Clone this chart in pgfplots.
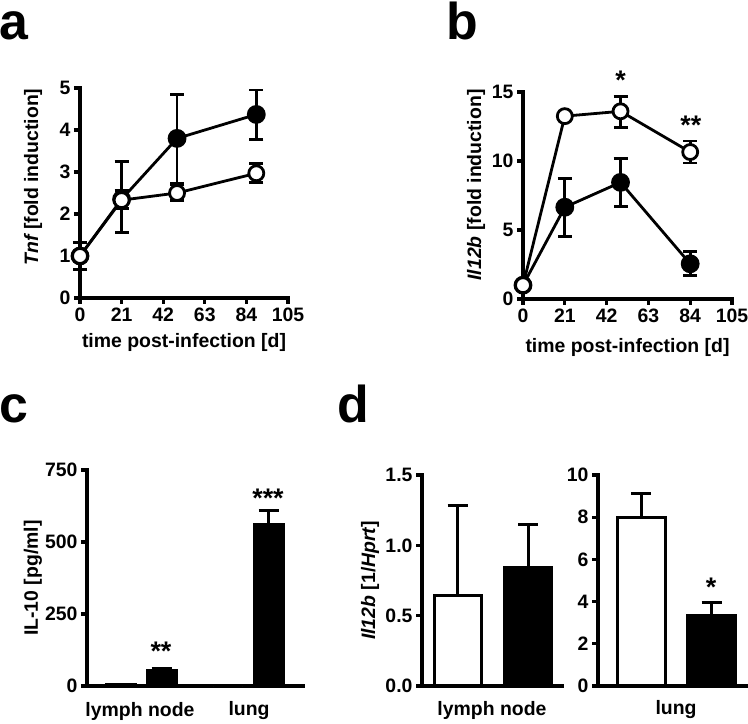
\documentclass[border=0pt]{standalone}
\usepackage{pgfplots}
\usepackage{pgfplotstable}
\pgfplotsset{compat=1.18}
\usepackage{fontspec}
\setmainfont{Liberation Sans}
\newcommand{\labfont}{\bfseries\fontsize{19.5}{23}\selectfont}
\newcommand{\panelfont}{\bfseries\fontsize{52}{52}\selectfont}
\newcommand{\starfont}{\bfseries\fontsize{27}{27}\selectfont}

\pgfplotstableread{
x y ep em
0 1 0.32 0.32
21 2.35 0.9 0.8
49 3.8 1.05 1.1
89 4.37 0.58 0.59
}\aFilled
\pgfplotstableread{
x y ep em
0 1 0.05 0.05
21 2.33 0.22 0.2
49 2.5 0.22 0.18
89 2.97 0.23 0.22
}\aOpen
\pgfplotstableread{
x y ep em
0 1 0.3 0.3
21 6.65 2.1 2.1
49 8.45 1.75 1.75
84 2.55 0.9 0.85
}\bFilled
\pgfplotstableread{
x y ep em
0 1 0.2 0.2
21 13.25 0.1 0.1
49 13.6 1.1 1.15
84 10.65 0.8 0.8
}\bOpen

\pgfplotsset{
  gp/.style={
    scale only axis,
    axis lines=left,
    axis line style={line width=3.2bp, -, line cap=rect},
    tick align=outside,
    major tick length=6bp,
    tick style={line width=3.2bp, black},
    tick label style={font=\labfont},
    label style={font=\labfont},
    /pgf/number format/assume math mode=true,
    clip=false,
  },
  opn/.style={black, line width=2.8bp, mark=*, mark options={fill=white, draw=black, line width=2.8bp, mark size=7.5bp},
    error bars/y dir=both, error bars/y explicit,
    error bars/error bar style={line width=2.8bp, black},
    error bars/error mark options={rotate=90, mark size=7bp, line width=2.8bp, black}},
  fld/.style={black, line width=2.8bp, mark=*, mark options={fill=black, draw=black, mark size=8bp},
    error bars/y dir=both, error bars/y explicit,
    error bars/error bar style={line width=2.8bp, black},
    error bars/error mark options={rotate=90, mark size=7bp, line width=2.8bp, black}},
  gbar/.style={ybar, bar shift=0pt, draw=black, line width=3bp,
    error bars/y dir=plus, error bars/y explicit,
    error bars/error bar style={line width=3bp, black},
    error bars/error mark options={rotate=90, mark size=10bp, line width=3bp, black}},
}

\begin{document}
\begin{tikzpicture}
\path[use as bounding box] (0,0) rectangle (748bp,724bp);

% panel letters
\node[anchor=base west, font=\panelfont, inner sep=0] at (-1bp,684bp) {a};
\node[anchor=base west, font=\panelfont, inner sep=0] at (446bp,684bp) {b};
\node[anchor=base west, font=\panelfont, inner sep=0] at (-1bp,301bp) {c};
\node[anchor=base west, font=\panelfont, inner sep=0] at (337bp,301bp) {d};

% panel a
\begin{axis}[gp, at={(80bp,426bp)}, anchor=south west, width=208bp, height=210bp,
  xmin=0, xmax=105, ymin=0, ymax=5,
  xtick={0,21,42,63,84,105}, ytick={0,1,2,3,4,5},
  xlabel={time post-infection [d]},
  ylabel={{\itshape Tnf} [fold induction]},
  xlabel style={at={(axis description cs:0.5,-0.214)}, anchor=center},
  ylabel style={at={(axis description cs:-0.226,0.576)}, anchor=center}]
\addplot[fld] table[x=x, y=y, y error plus=ep, y error minus=em] {\aFilled};
\addplot[opn] table[x=x, y=y, y error plus=ep, y error minus=em] {\aOpen};
\end{axis}

% panel b
\begin{axis}[gp, at={(523bp,425bp)}, anchor=south west, width=209bp, height=207bp,
  xmin=0, xmax=105, ymin=0, ymax=15,
  xtick={0,21,42,63,84,105}, ytick={0,5,10,15},
  xlabel={time post-infection [d]},
  ylabel={{\itshape Il12b} [fold induction]},
  xlabel style={at={(axis description cs:0.5,-0.232)}, anchor=center},
  ylabel style={at={(axis description cs:-0.225,0.551)}, anchor=center}]
\addplot[fld] table[x=x, y=y, y error plus=ep, y error minus=em] {\bFilled};
\addplot[opn] table[x=x, y=y, y error plus=ep, y error minus=em] {\bOpen};
\node[font=\starfont, anchor=base, inner sep=0] at (axis cs:49,15.2) {*};
\node[font=\starfont, anchor=base, inner sep=0] at (axis cs:84.3,11.9) {**};
\end{axis}

% panel c
\begin{axis}[gp, at={(87bp,38bp)}, anchor=south west, width=216bp, height=216bp,
  xmin=0, xmax=216, ymin=0, ymax=750,
  xtick=\empty, ytick={0,250,500,750},
  ylabel={IL-10 [pg/ml]},
  ylabel style={at={(axis description cs:-0.25,0.5)}, anchor=center}]
\addplot[gbar, bar width=29, fill=white] coordinates {(34,5) +- (0,1) (141,0) +- (0,0)};
\addplot[gbar, bar width=29, fill=black] coordinates {(74.5,55) +- (0,5) (181.5,560) +- (0,48)};
\node[font=\starfont, anchor=base, inner sep=0] at (axis cs:74,87) {**};
\node[font=\starfont, anchor=base, inner sep=0] at (axis cs:181,620) {***};
\node[font=\labfont] at (axis cs:53,0) [yshift=-25bp] {lymph node};
\node[font=\labfont] at (axis cs:162,0) [yshift=-25bp] {lung};
\end{axis}

% panel d left
\begin{axis}[gp, at={(422bp,38bp)}, anchor=south west, width=140bp, height=211bp,
  xmin=0, xmax=140, ymin=0, ymax=1.5,
  xtick=\empty, ytick={0,0.5,1.0,1.5},
  yticklabel style={/pgf/number format/.cd, fixed, fixed zerofill, precision=1},
  ylabel={{\itshape Il12b} [1/{\itshape Hprt}]},
  ylabel style={at={(axis description cs:-0.371,0.5)}, anchor=center}]
\addplot[gbar, bar width=47, fill=white] coordinates {(35.5,0.64) +- (0,0.64)};
\addplot[gbar, bar width=47, fill=black] coordinates {(106,0.84) +- (0,0.31)};
\node[font=\labfont] at (axis cs:70,0) [yshift=-24bp] {lymph node};
\end{axis}

% panel d right
\begin{axis}[gp, at={(598bp,38bp)}, anchor=south west, width=149bp, height=211bp,
  xmin=0, xmax=149, ymin=0, ymax=10,
  xtick=\empty, ytick={0,2,4,6,8,10}]
\addplot[gbar, bar width=48, fill=white] coordinates {(43,8.0) +- (0,1.1)};
\addplot[gbar, bar width=48, fill=black] coordinates {(113.5,3.35) +- (0,0.6)};
\node[font=\starfont, anchor=base, inner sep=0] at (axis cs:113,4.25) {*};
\node[font=\labfont] at (axis cs:78,0) [yshift=-24bp] {lung};
\end{axis}
\end{tikzpicture}
\end{document}
